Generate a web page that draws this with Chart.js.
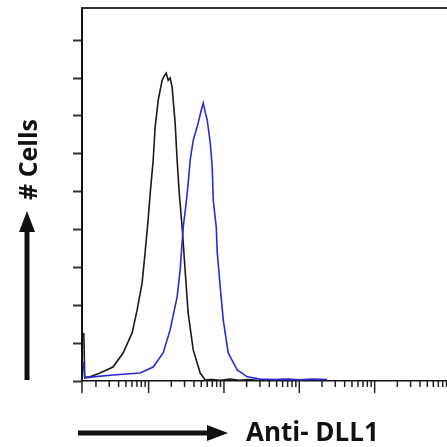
<!DOCTYPE html>
<html>
<head>
<meta charset="utf-8">
<script src="https://cdn.jsdelivr.net/npm/chart.js@4/dist/chart.umd.min.js"></script>
<style>
html,body{margin:0;padding:0;background:#fff;overflow:hidden;}
#wrap{position:relative;width:450px;height:447px;}
</style>
</head>
<body>
<div id="wrap"><canvas id="c" width="450" height="447"></canvas></div>
<script>
// ---- data ----
const controlX = [1.38, 1.42, 1.67, 2.26, 3.37, 4.58, 6.04, 7.03, 8.20, 8.97, 9.84, 10.5, 11.5, 12.2, 13.4, 15.1, 16.1, 17.1, 18.2, 19.3, 20.5, 22.5, 23.9, 25.5, 27.9, 30.5, 33.5, 39.1, 48.4, 56.4, 70, 90, 120, 160, 210, 280];
const controlY = [1.27, 0.10, 0.11, 0.21, 0.37, 0.74, 1.27, 1.87, 2.59, 3.38, 4.25, 4.96, 5.83, 6.70, 7.41, 7.94, 8.05, 8.13, 7.94, 8.00, 7.76, 6.81, 5.83, 4.96, 4.04, 2.93, 1.79, 0.82, 0.21, 0.03, 0.04, 0.02, 0.05, 0.02, 0.04, 0.02];
const dll1X = [1.36, 1.42, 1.83, 3.37, 7.71, 11.5, 15.6, 19.3, 23.9, 26.2, 28.8, 31.5, 33.5, 35.6, 39.1, 45.5, 49.9, 53.1, 56.4, 60.0, 65.8, 69.8, 72.1, 79.1, 81.5, 89.3, 97.9, 114, 150, 204, 304, 450, 700, 1000, 1500, 2340];
const dll1Y = [0.50, 0.08, 0.11, 0.16, 0.21, 0.37, 0.74, 1.35, 2.22, 2.93, 4.06, 4.70, 5.22, 5.83, 6.36, 6.81, 7.15, 7.34, 7.10, 6.89, 6.28, 5.65, 4.78, 4.06, 3.38, 2.48, 1.61, 0.74, 0.29, 0.11, 0.05, 0.04, 0.05, 0.03, 0.05, 0.04];
const xMin = 1.306, xMax = 100000;
const yMax = 9.85;
const decades = [1, 10, 100, 1000, 10000];
const multipliers = [1, 2, 3, 4, 5, 6, 7, 8, 9];
const yLabel = '# Cells';
const xLabel = 'Anti- DLL1';

const toPoints = (xs, ys) => xs.map((x, i) => ({x: x, y: ys[i]}));

const decor = {
  id: 'decor',
  afterDraw(chart) {
    const ctx = chart.ctx, a = chart.chartArea, xs = chart.scales.x;
    ctx.save();
    // top frame line
    ctx.strokeStyle = '#333'; ctx.lineWidth = 2;
    ctx.beginPath(); ctx.moveTo(a.left - 1, a.top); ctx.lineTo(a.right, a.top); ctx.stroke();
    // x ticks (log minor/major)
    ctx.strokeStyle = '#222'; ctx.lineWidth = 1.5;
    xs.ticks.forEach(t => {
      const px = xs.getPixelForValue(t.value);
      if (px < a.left - 0.5 || px > a.right + 0.5) return;
      const lg = Math.log10(t.value);
      const major = Math.abs(lg - Math.round(lg)) < 1e-6 || Math.abs(t.value - xMin) < 1e-6;
      ctx.beginPath(); ctx.moveTo(px, a.bottom); ctx.lineTo(px, a.bottom + (major ? 12 : 6)); ctx.stroke();
    });
    // labels & arrows
    ctx.fillStyle = '#111'; ctx.strokeStyle = '#111';
    // horizontal arrow
    ctx.lineWidth = 5;
    ctx.beginPath(); ctx.moveTo(78, 433); ctx.lineTo(210, 433); ctx.stroke();
    ctx.beginPath(); ctx.moveTo(228, 433); ctx.lineTo(207, 425); ctx.lineTo(207, 441); ctx.closePath(); ctx.fill();
    // vertical arrow
    ctx.beginPath(); ctx.moveTo(27, 380); ctx.lineTo(27, 230); ctx.stroke();
    ctx.beginPath(); ctx.moveTo(27, 211); ctx.lineTo(19, 232); ctx.lineTo(35, 232); ctx.closePath(); ctx.fill();
    // texts
    ctx.textBaseline = 'alphabetic'; ctx.textAlign = 'left';
    ctx.font = 'bold 26px "Open Sans"';
    ctx.fillText(xLabel, 246, 441);
    ctx.font = 'bold 25px "Open Sans"';
    ctx.translate(37, 200); ctx.rotate(-Math.PI / 2);
    ctx.fillText(yLabel, 0, 0);
    ctx.restore();
  }
};

new Chart(document.getElementById('c'), {
  type: 'line',
  data: {
    datasets: [
      {label: 'Anti-DLL1', data: toPoints(dll1X, dll1Y), borderColor: '#2a2ad2', borderWidth: 1.6, pointRadius: 0, tension: 0, fill: false},
      {label: 'Control', data: toPoints(controlX, controlY), borderColor: '#1a1a1a', borderWidth: 1.6, pointRadius: 0, tension: 0, fill: false}
    ]
  },
  options: {
    responsive: false,
    animation: false,
    devicePixelRatio: 1,
    layout: {padding: {top: 8, left: 0, right: 0, bottom: 0}},
    plugins: {legend: {display: false}, tooltip: {enabled: false}},
    scales: {
      x: {
        type: 'logarithmic', min: xMin, max: xMax,
        afterBuildTicks(scale) {
          const t = [{value: xMin}];
          decades.forEach(d => multipliers.forEach(m => { const v = d * m; if (v > xMin && v <= xMax) t.push({value: v}); }));
          scale.ticks = t;
        },
        afterFit(scale) { scale.height = 66; },
        ticks: {display: false},
        grid: {display: false},
        border: {display: true, color: '#111', width: 1.6}
      },
      y: {
        type: 'linear', min: 0, max: yMax,
        afterBuildTicks(scale) {
          const t = []; for (let v = 0; v <= 9; v++) t.push({value: v}); scale.ticks = t;
        },
        afterFit(scale) { scale.width = 82; },
        ticks: {display: false},
        grid: {display: true, drawOnChartArea: false, drawTicks: true, tickLength: 9, tickColor: '#333', tickWidth: 2, color: '#333'},
        border: {display: true, color: '#111', width: 2}
      }
    }
  },
  plugins: [decor]
});
</script>
</body>
</html>
